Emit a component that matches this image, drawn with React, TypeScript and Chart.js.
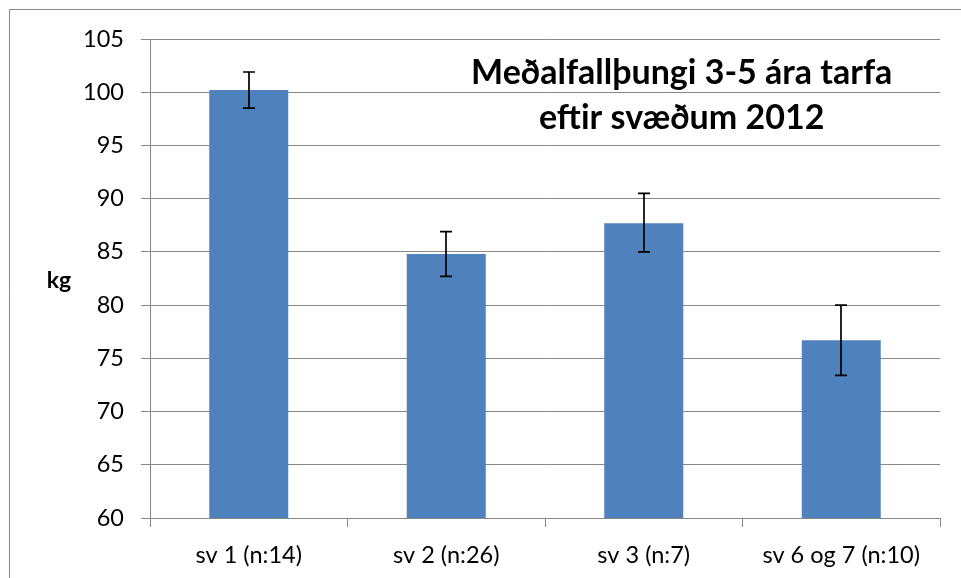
import React, { useEffect, useRef } from "react";
import { Chart, registerables } from "chart.js";

Chart.register(...registerables);

const categories = ["sv 1 (n:14)", "sv 2 (n:26)", "sv 3 (n:7)", "sv 6 og 7 (n:10)"];
const means = [100.2, 84.8, 87.7, 76.7];
const errLow = [98.5, 82.7, 85.0, 73.4];
const errHigh = [101.9, 86.9, 90.5, 80.0];
const titleLines = ["Meðalfallþungi 3-5 ára tarfa", "eftir svæðum 2012"];
const yAxisLabel = "kg";

const FONT = "Lato, 'Open Sans', sans-serif";

const errorBarPlugin = {
  id: "errorBars",
  afterDatasetsDraw(chart: any) {
    const meta = chart.getDatasetMeta(0);
    const y = chart.scales.y;
    const ctx = chart.ctx;
    ctx.save();
    ctx.strokeStyle = "#000";
    ctx.lineWidth = 1.7;
    meta.data.forEach((bar: any, i: number) => {
      const x = Math.round(bar.x);
      const yl = y.getPixelForValue(errLow[i]);
      const yh = y.getPixelForValue(errHigh[i]);
      ctx.beginPath();
      ctx.moveTo(x, yl);
      ctx.lineTo(x, yh);
      ctx.moveTo(x - 6, yl);
      ctx.lineTo(x + 6, yl);
      ctx.moveTo(x - 6, yh);
      ctx.lineTo(x + 6, yh);
      ctx.stroke();
    });
    ctx.restore();
  },
};

const textPlugin = {
  id: "texts",
  afterDraw(chart: any) {
    const ctx = chart.ctx;
    const area = chart.chartArea;
    ctx.save();
    // outer frame
    ctx.strokeStyle = "#888";
    ctx.lineWidth = 1;
    ctx.beginPath();
    ctx.moveTo(9.5, chart.height + 5);
    ctx.lineTo(9.5, 9.5);
    ctx.lineTo(chart.width + 5, 9.5);
    ctx.stroke();
    // title
    ctx.fillStyle = "#000";
    ctx.font = `bold 34px ${FONT}`;
    ctx.textAlign = "center";
    ctx.textBaseline = "middle";
    const cx = area.left + (area.right - area.left) * 0.673;
    ctx.fillText(titleLines[0], cx, area.top + 34);
    ctx.fillText(titleLines[1], cx, area.top + 79);
    // y axis label
    ctx.font = `bold 23px ${FONT}`;
    ctx.fillText(yAxisLabel, 59, (area.top + area.bottom) / 2 + 2);
    ctx.restore();
  },
};

export default function App() {
  const ref = useRef<HTMLCanvasElement>(null);
  useEffect(() => {
    document.body.style.margin = "0";
    const chart = new Chart(ref.current!, {
      type: "bar",
      data: {
        labels: categories,
        datasets: [
          {
            data: means,
            backgroundColor: "#4F81BD",
            categoryPercentage: 0.8,
            barPercentage: 0.5,
          },
        ],
      },
      options: {
        animation: false,
        responsive: false,
        layout: { padding: { left: 10, top: 39, right: 21, bottom: 0 } },
        plugins: { legend: { display: false }, tooltip: { enabled: false }, title: { display: false } },
        scales: {
          x: {
            afterFit: (s: any) => {
              s.height = 60;
            },
            grid: { drawOnChartArea: false, drawTicks: true, tickLength: 9, color: "#888", offset: true },
            border: { display: true, color: "#888", width: 1 },
            ticks: { color: "#000", font: { family: FONT, size: 23.5 }, padding: 14 },
          },
          y: {
            min: 60,
            max: 105,
            afterFit: (s: any) => {
              s.width = 140;
            },
            grid: { color: "#888", tickLength: 9, lineWidth: 1 },
            border: { display: true, color: "#888", width: 1 },
            ticks: { stepSize: 5, color: "#000", font: { family: FONT, size: 23.5 }, padding: 17 },
          },
        },
      },
      plugins: [errorBarPlugin, textPlugin],
    });
    return () => chart.destroy();
  }, []);
  return <canvas ref={ref} width={961} height={578} style={{ display: "block" }} />;
}
